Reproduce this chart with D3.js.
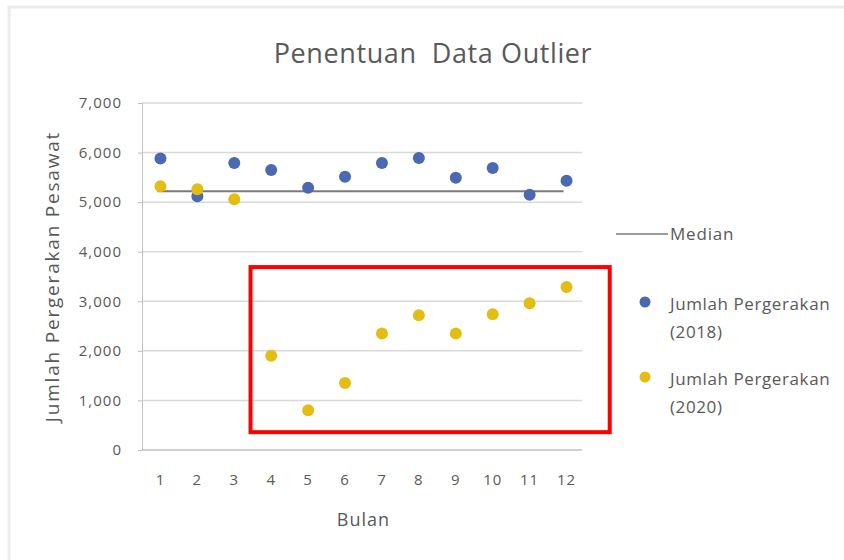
<!DOCTYPE html>
<html>
<head>
<meta charset="utf-8">
<script src="https://cdn.jsdelivr.net/npm/d3@7"></script>
<style>
  body { margin: 0; background: #fff; }
  text { font-family: "Open Sans", "Noto Sans", sans-serif; fill: #595959; }
</style>
</head>
<body>
<svg id="chart" width="844" height="560"></svg>
<script>
// data
var months = [1, 2, 3, 4, 5, 6, 7, 8, 9, 10, 11, 12];
var movements2018 = [5880, 5120, 5790, 5650, 5290, 5510, 5790, 5890, 5490, 5690, 5150, 5430];
var movements2020 = [5320, 5260, 5060, 1900, 800, 1350, 2350, 2720, 2350, 2740, 2960, 3290];
var medianValue = 5220;
var yTicks = [0, 1000, 2000, 3000, 4000, 5000, 6000, 7000];
var outlierBox = {m0: 3.44, m1: 13.17, v0: 3690, v1: 360};

var svg = d3.select('#chart');
var plotLeft = 142, plotRight = 585, plotTop = 103, plotBottom = 450;

// faint outer frame
svg.append('path')
  .attr('d', 'M9,560V7H844')
  .attr('fill', 'none')
  .attr('stroke', '#ececec')
  .attr('stroke-width', 3);

var x = d3.scaleBand().domain(months).range([plotLeft, plotRight]);
var xm = d3.scaleLinear().domain([1, 12])
  .range([x(1) + x.bandwidth() / 2, x(12) + x.bandwidth() / 2]);
var y = d3.scaleLinear().domain([0, 7000]).range([plotBottom, plotTop]);
var fmt = d3.format(',');

// gridlines
svg.append('g').selectAll('line')
  .data(yTicks.filter(d => d > 0))
  .enter().append('line')
  .attr('x1', plotLeft).attr('x2', plotRight - 3)
  .attr('y1', d => y(d)).attr('y2', d => y(d))
  .attr('stroke', '#d9d9d9').attr('stroke-width', 1.5);

// axes
var yAxis = svg.append('g')
  .attr('transform', 'translate(' + plotLeft + ',0)')
  .call(d3.axisLeft(y).tickValues(yTicks).tickFormat(fmt).tickSize(4).tickPadding(16));
yAxis.select('.domain').attr('stroke', '#bfbfbf');
yAxis.selectAll('.tick line').attr('stroke', '#bfbfbf');
yAxis.selectAll('text').attr('font-size', 15).attr('letter-spacing', 1).style('fill', '#595959');

var xAxis = svg.append('g')
  .attr('transform', 'translate(0,' + plotBottom + ')')
  .call(d3.axisBottom(x).tickSize(0).tickPadding(24));
xAxis.select('.domain').attr('stroke', '#bfbfbf').attr('stroke-width', 1.5)
  .attr('d', 'M' + plotLeft + ',0H' + (plotRight - 3));
xAxis.selectAll('text').attr('font-size', 15).attr('letter-spacing', 1).style('fill', '#595959');

// median line
svg.append('line')
  .attr('x1', xm(1) - 3).attr('x2', xm(12) - 3)
  .attr('y1', y(medianValue)).attr('y2', y(medianValue))
  .attr('stroke', '#7a7a7a').attr('stroke-width', 2);

// dots
svg.append('g').selectAll('circle')
  .data(movements2018)
  .enter().append('circle')
  .attr('cx', (d, i) => xm(months[i]))
  .attr('cy', d => y(d))
  .attr('r', 6)
  .attr('fill', '#4a69b0');

svg.append('g').selectAll('circle')
  .data(movements2020)
  .enter().append('circle')
  .attr('cx', (d, i) => xm(months[i]))
  .attr('cy', d => y(d))
  .attr('r', 6)
  .attr('fill', '#e3bd14');

// title and axis titles
svg.append('text')
  .attr('x', 433).attr('y', 63)
  .attr('text-anchor', 'middle')
  .attr('font-size', 27)
  .attr('letter-spacing', 0.6)
  .style('white-space', 'pre')
  .text('Penentuan  Data Outlier');

svg.append('text')
  .attr('transform', 'translate(59,' + ((plotTop + plotBottom) / 2) + ') rotate(-90)')
  .attr('text-anchor', 'middle')
  .attr('font-size', 19)
  .attr('letter-spacing', 1.8)
  .text('Jumlah Pergerakan Pesawat');

svg.append('text')
  .attr('x', (plotLeft + plotRight) / 2).attr('y', 526)
  .attr('text-anchor', 'middle')
  .attr('font-size', 18)
  .attr('letter-spacing', 1)
  .text('Bulan');

// legend
var lg = svg.append('g');
lg.append('line')
  .attr('x1', 616).attr('x2', 668).attr('y1', 234).attr('y2', 234)
  .attr('stroke', '#7a7a7a').attr('stroke-width', 1.5);
lg.append('text').attr('x', 670).attr('y', 240).attr('font-size', 17)
  .attr('letter-spacing', 0.8).text('Median');

var legendItems = [
  {color: '#4a69b0', label: ['Jumlah Pergerakan', '(2018)'], cy: 302},
  {color: '#e3bd14', label: ['Jumlah Pergerakan', '(2020)'], cy: 377}
];
legendItems.forEach(function(it){
  lg.append('circle').attr('cx', 645).attr('cy', it.cy).attr('r', 5.5).attr('fill', it.color);
  it.label.forEach(function(l, j){
    lg.append('text').attr('x', 670).attr('y', it.cy + 8 + j * 28)
      .attr('font-size', 17).attr('letter-spacing', 0.6).text(l);
  });
});

// red outlier box
svg.append('rect')
  .attr('x', xm(outlierBox.m0))
  .attr('y', y(outlierBox.v0))
  .attr('width', xm(outlierBox.m1) - xm(outlierBox.m0))
  .attr('height', y(outlierBox.v1) - y(outlierBox.v0))
  .attr('fill', 'none')
  .attr('stroke', '#ff0000')
  .attr('stroke-width', 4);
</script>
</body>
</html>
